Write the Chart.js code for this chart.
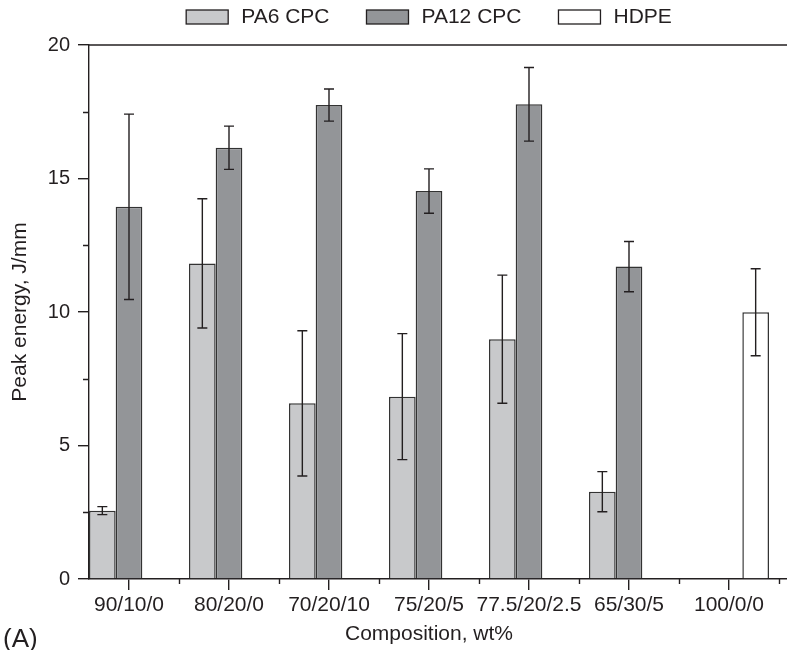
<!DOCTYPE html>
<html>
<head>
<meta charset="utf-8">
<script src="https://cdn.jsdelivr.net/npm/chart.js@4.4.1/dist/chart.umd.min.js"></script>
<style>
  html, body { margin: 0; padding: 0; background: #fff; }
  #wrap { width: 787px; height: 650px; }
</style>
</head>
<body>
<div id="wrap"><canvas id="grafico"></canvas></div>
<script>
const categories = ['90/10/0', '80/20/0', '70/20/10', '75/20/5', '77.5/20/2.5', '65/30/5', '100/0/0'];
const seriesNames = ['PA6 CPC', 'PA12 CPC', 'HDPE'];

const pa6 = [2.56, 11.82, 6.58, 6.83, 8.98, 3.27, null];
const pa6Err = [0.15, 2.42, 2.72, 2.36, 2.40, 0.75, null];
const pa12 = [13.94, 16.15, 17.75, 14.53, 17.78, 11.70, null];
const pa12Err = [3.47, 0.81, 0.60, 0.83, 1.38, 0.94, null];
const hdpe = [null, null, null, null, null, null, 9.99];
const hdpeErr = [null, null, null, null, null, null, 1.63];

const yTicks = [0, 5, 10, 15, 20];

const INK = '#231f20';
const FONT = "'Liberation Sans', Arial, sans-serif";

// barras com eixo linear: x = posicao da categoria (1..7)
function pontos(valores) {
    return valores.map((v, i) => ({ x: i + 1, y: v }));
}

const extras = {
    id: 'extras',
    afterDatasetsDraw(chart) {
        const ctx = chart.ctx;
        const y = chart.scales.y;
        ctx.save();
        ctx.strokeStyle = INK;
        ctx.lineWidth = 1.4;
        chart.data.datasets.forEach((ds, di) => {
            const meta = chart.getDatasetMeta(di);
            meta.data.forEach((bar, i) => {
                const v = ds.data[i].y;
                const e = ds.errors[i];
                if (v == null || e == null) return;
                const top = y.getPixelForValue(v + e);
                const bot = y.getPixelForValue(v - e);
                ctx.beginPath();
                ctx.moveTo(bar.x, top); ctx.lineTo(bar.x, bot);
                ctx.moveTo(bar.x - 5, top); ctx.lineTo(bar.x + 5, top);
                ctx.moveTo(bar.x - 5, bot); ctx.lineTo(bar.x + 5, bot);
                ctx.stroke();
            });
        });
        ctx.restore();
    },
    afterDraw(chart) {
        const ctx = chart.ctx;
        const { left, right, top, bottom } = chart.chartArea;
        const x = chart.scales.x;
        const y = chart.scales.y;
        ctx.save();
        ctx.strokeStyle = INK;
        ctx.lineWidth = 1.4;

        // linha superior
        ctx.beginPath();
        ctx.moveTo(left, top);
        ctx.lineTo(right, top);
        ctx.stroke();

        // ticks menores
        ctx.beginPath();
        categories.forEach((c, i) => {
            const px = Math.round(x.getPixelForValue(i + 1.5)) + 0.5;
            if (px > right) return;
            ctx.moveTo(px, bottom);
            ctx.lineTo(px, bottom + 5);
        });
        for (let k = 0; k < yTicks.length - 1; k++) {
            const py = Math.round(y.getPixelForValue((yTicks[k] + yTicks[k + 1]) / 2)) + 0.5;
            ctx.moveTo(left, py);
            ctx.lineTo(left - 6, py);
        }
        ctx.stroke();

        // legenda
        const meio = x.getPixelForValue((categories.length + 1) / 2);
        ctx.font = `21px ${FONT}`;
        const boxW = 42, boxH = 14, gapTxt = 13, gapItem = 37;
        const larguras = chart.data.datasets.map(ds => boxW + gapTxt + ctx.measureText(ds.label).width);
        const total = larguras.reduce((a, b) => a + b, 0) + gapItem * (larguras.length - 1);
        let cx = meio - total / 2;
        ctx.textBaseline = 'alphabetic';
        ctx.textAlign = 'left';
        chart.data.datasets.forEach((ds, i) => {
            ctx.fillStyle = ds.backgroundColor;
            ctx.fillRect(cx, 10, boxW, boxH);
            ctx.lineWidth = 1.3;
            ctx.strokeStyle = ds.borderColor;
            ctx.strokeRect(cx, 10, boxW, boxH);
            ctx.fillStyle = INK;
            ctx.fillText(ds.label, cx + boxW + gapTxt, 23);
            cx += larguras[i] + gapItem;
        });

        // titulo do eixo x
        ctx.textAlign = 'center';
        ctx.fillText('Composition, wt%', meio, 640);

        // rotulo do painel
        ctx.font = `26px ${FONT}`;
        ctx.textAlign = 'left';
        ctx.fillText('(A)', 3, 647);
        ctx.restore();
    }
};

new Chart(document.getElementById('grafico'), {
    type: 'bar',
    data: {
        datasets: [
            { label: seriesNames[0], data: pontos(pa6), errors: pa6Err, backgroundColor: '#c8c9cb' },
            { label: seriesNames[1], data: pontos(pa12), errors: pa12Err, backgroundColor: '#939598' },
            { label: seriesNames[2], data: pontos(hdpe), errors: hdpeErr, backgroundColor: '#ffffff' }
        ]
    },
    options: {
        responsive: true,
        maintainAspectRatio: false,
        animation: false,
        events: [],
        datasets: {
            bar: {
                categoryPercentage: 0.8,
                barPercentage: 1,
                borderColor: '#333333',
                borderWidth: 1.5
            }
        },
        layout: { padding: { top: 45, left: 0, right: 0, bottom: 0 } },
        plugins: {
            legend: { display: false },
            tooltip: { enabled: false }
        },
        scales: {
            x: {
                type: 'linear',
                min: 0.6,
                max: 7.58,
                offset: false,
                afterFit: s => { s.height = 71; },
                grid: { offset: false, drawOnChartArea: false, tickLength: 11, color: INK, lineWidth: 1.4 },
                border: { color: INK, width: 1.4 },
                ticks: {
                    stepSize: 1,
                    includeBounds: false,
                    autoSkip: false,
                    maxRotation: 0,
                    padding: 3,
                    color: INK,
                    font: { family: FONT, size: 21 },
                    callback: v => categories[v - 1] ?? ''
                }
            },
            y: {
                min: yTicks[0],
                max: yTicks[yTicks.length - 1],
                afterFit: s => { s.width = 89; },
                afterBuildTicks: s => { s.ticks = yTicks.map(v => ({ value: v })); },
                grid: { drawOnChartArea: false, tickLength: 11, color: INK, lineWidth: 1.4 },
                border: { color: INK, width: 1.4 },
                ticks: {
                    padding: 8,
                    color: INK,
                    font: { family: FONT, size: 20 }
                },
                title: {
                    display: true,
                    text: 'Peak energy, J/mm',
                    color: INK,
                    font: { family: FONT, size: 21 },
                    padding: { top: 8, bottom: 0 }
                }
            }
        }
    },
    plugins: [extras]
});
</script>
</body>
</html>
